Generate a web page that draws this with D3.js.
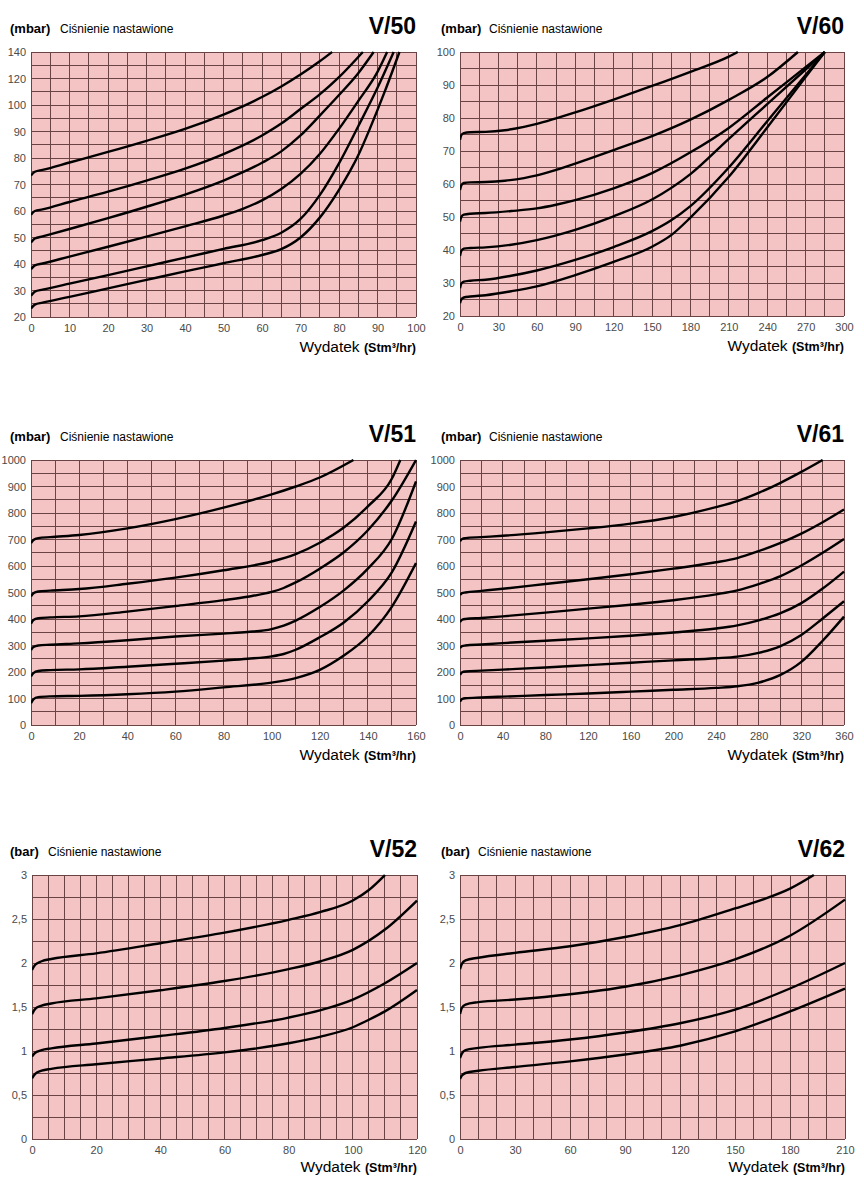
<!DOCTYPE html>
<html><head><meta charset="utf-8">
<script src="https://cdn.jsdelivr.net/npm/d3@7"></script>
<style>body{margin:0;background:#fff}</style>
</head><body><svg id="c" width="864" height="1203"></svg>
<script>
// ---------- V/50 ----------
const v50_xTicks = [0,10,20,30,40,50,60,70,80,90,100];
const v50_yTicks = [20,30,40,50,60,70,80,90,100,120,140];
const v50_s1 = [[0,73.4],[1,74.8],[3,75.5],[10,78.3],[20,82.3],[30,86.5],[40,91],[50,96.4],[55,99.5],[60,106],[65,114],[70,123],[75,133],[78.2,140]];
const v50_s2 = [[0,58.6],[1,60],[3,60.6],[10,63.4],[20,67.3],[30,71.5],[40,76],[50,81.5],[60,88.5],[65,93],[70,98.5],[75,108],[80,121],[86.2,140]];
const v50_s3 = [[0,48.1],[1,49.6],[3,50.4],[10,53.2],[20,57.3],[30,61.6],[40,66.2],[50,71.5],[60,78.2],[65,82.5],[70,88.5],[75,96],[80,107.5],[85,124],[89,140]];
const v50_s4 = [[0,38],[1,39.5],[3,40.2],[10,42.8],[20,46.5],[30,50.3],[40,54.2],[50,58.3],[55,60.8],[60,64],[65,68.3],[70,74],[75,81.5],[80,91],[85,103],[90,125],[92.5,140]];
const v50_s5 = [[0,28],[1,29.6],[3,30.3],[10,32.6],[20,35.8],[30,39.1],[40,42.4],[50,45.7],[60,49],[65,51.8],[70,57],[75,66],[80,78],[85,92],[90,113],[94.2,140]];
const v50_s6 = [[0,23.2],[1,24.7],[3,25.4],[10,27.6],[20,30.8],[30,34],[40,37.2],[50,40.3],[60,43.4],[65,45.6],[70,50],[75,57.5],[80,68],[85,81],[88,91],[92,111],[95.7,140]];

// ---------- V/60 ----------
const v60_xTicks = [0,30,60,90,120,150,180,210,240,270,300];
const v60_yTicks = [20,30,40,50,60,70,80,90,100];
const v60_s1 = [[0,73.4],[1,74.8],[3,75.4],[8,75.7],[20,75.8],[35,76.3],[50,77.3],[60,78.2],[75,79.9],[90,81.7],[120,85.6],[150,89.7],[180,94],[210,98.6],[217,100]];
const v60_s2 = [[0,58.2],[1,59.6],[3,60.3],[8,60.5],[20,60.6],[35,61],[50,61.8],[60,62.6],[75,64.3],[90,66.2],[120,70.3],[150,74.5],[180,79.5],[210,85.5],[240,92.4],[264,100]];
const v60_s3 = [[0,48.6],[1,50],[3,50.7],[8,51],[20,51.2],[40,51.8],[60,52.6],[75,53.7],[90,55.1],[120,58.7],[150,63.3],[180,69.6],[210,77],[240,86.2],[270,95.4],[285,100]];
const v60_s4 = [[0,38.2],[1,39.7],[3,40.4],[8,40.6],[20,40.8],[40,41.6],[60,43],[90,46.1],[120,50.2],[150,55.3],[180,63],[210,73.7],[240,84.2],[270,94.7],[285,100]];
const v60_s5 = [[0,28.4],[1,29.8],[3,30.4],[8,30.7],[20,31],[40,32.2],[60,33.8],[90,37],[120,40.9],[150,45.7],[165,49],[180,53.3],[210,65],[240,79],[270,93],[285,100]];
const v60_s6 = [[0,23.9],[1,25],[3,25.6],[8,25.9],[20,26.3],[40,27.5],[60,29],[90,32.4],[120,36.4],[150,41],[165,44.5],[180,49.8],[210,62.2],[240,77.1],[270,92.4],[285,100]];

// ---------- V/51 ----------
const v51_xTicks = [0,20,40,60,80,100,120,140,160];
const v51_yTicks = [0,100,200,300,400,500,600,700,800,900,1000];
const v51_s1 = [[0,686],[1,698],[3,705],[8,709],[20,717],[40,742],[60,777],[80,820],[100,870],[110,900],[120,934],[134,1000]];
const v51_s2 = [[0,485],[1,497],[3,504],[8,507],[20,513],[40,533],[60,556],[80,584],[100,617],[110,645],[120,688],[130,745],[140,825],[150,930],[153.5,1000]];
const v51_s3 = [[0,382],[1,396],[3,403],[8,406],[20,410],[40,428],[60,449],[80,471],[90,484],[100,502],[105,517],[110,538],[120,590],[130,652],[140,735],[150,848],[160,1000]];
const v51_s4 = [[0,283],[1,294],[3,300],[8,303],[20,308],[40,320],[60,334],[80,345],[90,351],[100,362],[105,375],[110,394],[120,445],[130,508],[140,590],[150,703],[160,919]];
const v51_s5 = [[0,183],[1,196],[3,204],[8,207],[20,210],[40,220],[60,231],[80,243],[90,250],[100,259],[105,268],[110,284],[120,331],[130,387],[140,467],[150,577],[160,768]];
const v51_s6 = [[0,82],[1,97],[3,105],[8,108],[20,110],[40,116],[60,126],[80,142],[100,160],[110,177],[120,208],[130,262],[140,335],[150,447],[160,611]];

// ---------- V/61 ----------
const v61_xTicks = [0,40,80,120,160,200,240,280,320,360];
const v61_yTicks = [0,100,200,300,400,500,600,700,800,900,1000];
const v61_s1 = [[0,693],[2,702],[5,705],[20,709],[40,714],[80,727],[120,742],[160,760],[200,785],[240,822],[260,845],[280,876],[300,913],[320,955],[340,1000]];
const v61_s2 = [[0,491],[2,498],[5,500],[20,506],[40,514],[80,532],[120,550],[160,569],[200,590],[240,614],[260,630],[280,656],[300,686],[320,722],[340,765],[360,813]];
const v61_s3 = [[0,388],[2,397],[5,400],[20,404],[40,410],[80,424],[120,439],[160,454],[200,471],[240,493],[260,508],[280,532],[300,561],[320,602],[340,650],[360,702]];
const v61_s4 = [[0,290],[2,298],[5,300],[20,304],[40,309],[80,318],[120,327],[160,337],[200,349],[240,364],[260,376],[280,395],[300,421],[320,460],[340,515],[360,579]];
const v61_s5 = [[0,189],[2,199],[5,202],[20,205],[40,209],[80,217],[120,226],[160,235],[200,244],[240,252],[260,258],[280,272],[300,297],[320,340],[340,402],[360,467]];
const v61_s6 = [[0,88],[2,98],[5,101],[20,104],[40,107],[80,113],[120,119],[160,126],[200,133],[240,140],[260,146],[280,160],[300,188],[320,238],[340,318],[360,409]];

// ---------- V/52 ----------
const v52_xTicks = [0,20,40,60,80,100,120];
const v52_yTicks = [0,0.5,1,1.5,2,2.5,3];
const v52_s1 = [[0,1.92],[1,1.98],[3,2.02],[6,2.045],[20,2.11],[40,2.225],[60,2.345],[80,2.49],[90,2.58],[100,2.71],[105,2.83],[110,3.0]];
const v52_s2 = [[0,1.417],[1,1.48],[3,1.515],[6,1.54],[20,1.598],[40,1.69],[60,1.795],[80,1.93],[90,2.02],[100,2.15],[110,2.38],[120,2.71]];
const v52_s3 = [[0,0.936],[1,0.98],[3,1.01],[6,1.03],[20,1.085],[40,1.17],[60,1.262],[80,1.38],[90,1.465],[100,1.585],[110,1.77],[120,2.0]];
const v52_s4 = [[0,0.69],[1,0.74],[3,0.776],[6,0.797],[20,0.85],[40,0.915],[60,0.985],[70,1.03],[80,1.088],[90,1.163],[100,1.27],[105,1.355],[110,1.45],[120,1.693]];

// ---------- V/62 ----------
const v62_xTicks = [0,30,60,90,120,150,180,210];
const v62_yTicks = [0,0.5,1,1.5,2,2.5,3];
const v62_s1 = [[0,1.93],[1,1.99],[3,2.03],[10,2.06],[30,2.115],[60,2.19],[90,2.295],[120,2.43],[150,2.62],[165,2.72],[180,2.845],[193,3.0]];
const v62_s2 = [[0,1.42],[1,1.49],[3,1.528],[10,1.555],[30,1.585],[60,1.645],[90,1.73],[120,1.86],[150,2.04],[180,2.31],[210,2.72]];
const v62_s3 = [[0,0.92],[1,0.97],[3,1.01],[10,1.035],[30,1.072],[60,1.13],[90,1.21],[120,1.315],[150,1.47],[180,1.71],[210,2.0]];
const v62_s4 = [[0,0.683],[1,0.72],[3,0.75],[10,0.775],[30,0.818],[60,0.882],[90,0.96],[120,1.06],[150,1.222],[180,1.45],[210,1.71]];

const FONT = "'Liberation Sans', Arial, Helvetica, sans-serif";
const svg = d3.select("#c");
const defs = svg.append("defs");
let clipId = 0;

function range(a, b, s) { const r = []; for (let v = a; v <= b + 1e-9; v += s) r.push(+v.toFixed(4)); return r; }

function panel(cfg) {
  const g = svg.append("g");
  const x = d3.scaleLinear().domain([cfg.xTicks[0], cfg.xTicks[cfg.xTicks.length - 1]]).range([cfg.x0, cfg.x1]);
  const y = d3.scaleLinear().domain(cfg.yDomain).range(cfg.yRange);

  g.append("rect").attr("x", cfg.x0).attr("y", cfg.y0)
    .attr("width", cfg.x1 - cfg.x0).attr("height", cfg.y1 - cfg.y0)
    .attr("fill", "#f4c3c3");

  const grid = g.append("g").attr("stroke", "#6a4444").attr("stroke-width", 1).attr("shape-rendering", "crispEdges");
  grid.selectAll("line.v").data(cfg.xGrid).join("line")
    .attr("x1", d => x(d)).attr("x2", d => x(d)).attr("y1", cfg.y0).attr("y2", cfg.y1);
  grid.selectAll("line.h").data(cfg.yGrid).join("line").attr("class", "h")
    .attr("y1", d => y(d)).attr("y2", d => y(d)).attr("x1", cfg.x0).attr("x2", cfg.x1);

  const fmt = cfg.fmt || (d => String(d));
  const ya = g.append("g").attr("transform", `translate(${cfg.x0},0)`)
    .call(d3.axisLeft(y).tickValues(cfg.yTicks).tickSize(0).tickPadding(5).tickFormat(fmt));
  ya.select(".domain").remove();
  ya.selectAll("text").attr("font-family", FONT).attr("font-size", 11).attr("fill", "#4a4a4a");

  const xa = g.append("g").attr("transform", `translate(0,${cfg.y1})`)
    .call(d3.axisBottom(x).tickValues(cfg.xTicks).tickSize(0).tickPadding(7).tickFormat(d => String(d)));
  xa.select(".domain").remove();
  xa.selectAll("text").attr("font-family", FONT).attr("font-size", 11).attr("fill", "#4a4a4a");

  const id = "clip" + (clipId++);
  defs.append("clipPath").attr("id", id).append("rect")
    .attr("x", cfg.x0).attr("y", cfg.y0 - 1).attr("width", cfg.x1 - cfg.x0 + 1).attr("height", cfg.y1 - cfg.y0 + 1);

  const line = d3.line().x(d => x(d[0])).y(d => y(d[1])).curve(d3.curveMonotoneX);
  g.append("g").attr("clip-path", `url(#${id})`)
    .selectAll("path").data(cfg.series).join("path")
    .attr("d", line).attr("fill", "none").attr("stroke", "#000").attr("stroke-width", 2.4);

  // header
  const hy = cfg.y0 - 19;
  g.append("text").attr("x", cfg.unitX).attr("y", hy).attr("font-family", FONT)
    .attr("font-size", 13).attr("font-weight", "bold").text(cfg.unit);
  g.append("text").attr("x", cfg.labelX).attr("y", hy).attr("font-family", FONT)
    .attr("font-size", 12).text("Ciśnienie nastawione");
  g.append("text").attr("x", cfg.x1).attr("y", cfg.y0 - 18).attr("text-anchor", "end")
    .attr("font-family", FONT).attr("font-size", 23).attr("font-weight", "bold").text(cfg.title);

  const xt = g.append("text").attr("x", cfg.x1).attr("y", cfg.y1 + cfg.xlabDy).attr("text-anchor", "end")
    .attr("font-family", FONT);
  xt.append("tspan").attr("font-size", 15.5).text("Wydatek ");
  xt.append("tspan").attr("font-size", 12.5).attr("font-weight", "bold").text("(Stm³/hr)");
}

const commaFmt = d => String(d).replace(".", ",");

panel({ title: "V/50", unit: "(mbar)", unitX: 10, labelX: 60, x0: 31, x1: 416, y0: 52, y1: 317, xlabDy: 35,
  xTicks: v50_xTicks, xGrid: range(0, 100, 5), yTicks: v50_yTicks,
  yDomain: [20, 100, 140], yRange: [317, 317 - 265 * 0.8, 52],
  yGrid: range(20, 100, 5).concat([110, 120, 130, 140]),
  series: [v50_s1, v50_s2, v50_s3, v50_s4, v50_s5, v50_s6] });

panel({ title: "V/60", unit: "(mbar)", unitX: 441, labelX: 489, x0: 460, x1: 844, y0: 52, y1: 316, xlabDy: 35,
  xTicks: v60_xTicks, xGrid: range(0, 300, 15), yTicks: v60_yTicks,
  yDomain: [20, 100], yRange: [316, 52], yGrid: range(20, 100, 5),
  series: [v60_s1, v60_s2, v60_s3, v60_s4, v60_s5, v60_s6] });

panel({ title: "V/51", unit: "(mbar)", unitX: 10, labelX: 60, x0: 31, x1: 416, y0: 460, y1: 725, xlabDy: 35,
  xTicks: v51_xTicks, xGrid: range(0, 160, 10), yTicks: v51_yTicks,
  yDomain: [0, 1000], yRange: [725, 460], yGrid: range(0, 1000, 50),
  series: [v51_s1, v51_s2, v51_s3, v51_s4, v51_s5, v51_s6] });

panel({ title: "V/61", unit: "(mbar)", unitX: 441, labelX: 489, x0: 460, x1: 844, y0: 460, y1: 725, xlabDy: 35,
  xTicks: v61_xTicks, xGrid: range(0, 360, 20), yTicks: v61_yTicks,
  yDomain: [0, 1000], yRange: [725, 460], yGrid: range(0, 1000, 50),
  series: [v61_s1, v61_s2, v61_s3, v61_s4, v61_s5, v61_s6] });

panel({ title: "V/52", unit: "(bar)", unitX: 10, labelX: 48, x0: 32, x1: 417, y0: 875, y1: 1139, xlabDy: 33, fmt: commaFmt,
  xTicks: v52_xTicks, xGrid: range(0, 120, 5), yTicks: v52_yTicks,
  yDomain: [0, 3], yRange: [1139, 875], yGrid: range(0, 3, 0.25),
  series: [v52_s1, v52_s2, v52_s3, v52_s4] });

panel({ title: "V/62", unit: "(bar)", unitX: 441, labelX: 478, x0: 460, x1: 845, y0: 875, y1: 1139, xlabDy: 33, fmt: commaFmt,
  xTicks: v62_xTicks, xGrid: range(0, 210, 10), yTicks: v62_yTicks,
  yDomain: [0, 3], yRange: [1139, 875], yGrid: range(0, 3, 0.25),
  series: [v62_s1, v62_s2, v62_s3, v62_s4] });
</script></body></html>
